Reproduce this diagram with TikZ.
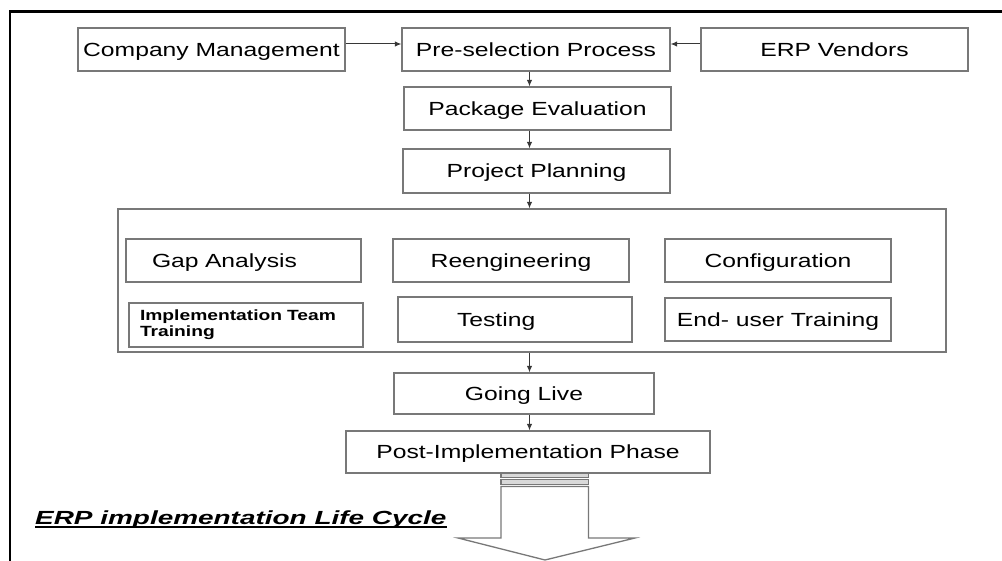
\documentclass[tikz,border=0pt]{standalone}
\usepackage{fontspec}
\setmainfont{Liberation Sans}[FakeStretch=1.3]
\newfontfamily\titlefont{Liberation Sans}[FakeStretch=1.47]
\usetikzlibrary{arrows.meta}

\definecolor{boxgray}{RGB}{120,120,120}
\definecolor{linegray}{RGB}{55,55,55}

\tikzset{
	box/.style={draw=boxgray, line width=1.3pt, inner sep=0pt, minimum height=43pt,
		text height=13.6pt, text depth=0pt, font=\fontsize{19}{22}\selectfont},
	flow/.style={draw=linegray, line width=1pt, -{Latex[length=6.5pt,width=5.5pt]}},
}

\begin{document}
\begin{tikzpicture}[x=1pt, y=-1pt]
	\useasboundingbox (0,0) rectangle (1002,561);

	% frame
	\draw[line width=2.6pt] (1002,11.3) -- (10,11.3) -- (10,561);

	% selection
	\node[box, minimum width=267pt] (mgmt) at (211.5,49.5) {Company Management};
	\node[box, minimum width=268pt] (presel) at (536,49.5) {Pre-selection Process};
	\node[box, minimum width=267pt] (vendors) at (834.5,49.5) {ERP Vendors};
	\node[box, minimum width=267pt] (pkgeval) at (537.5,108.5) {Package Evaluation};
	\node[box, minimum width=267pt, minimum height=44pt] (planning) at (536.5,171) {Project Planning};

	% implementation phases
	\node[draw=boxgray, line width=1.3pt, minimum width=828pt, minimum height=143pt] (phases) at (532,280.5) {};
	\node[box, minimum width=235pt, text width=183pt, inner xsep=26pt, align=left] (gap) at (243.5,260.5) {Gap Analysis};
	\node[box, minimum width=236pt] (reeng) at (511,260.5) {Reengineering};
	\node[box, minimum width=226pt] (config) at (778,260.5) {Configuration};
	\node[draw=boxgray, line width=1.3pt, minimum width=234pt, minimum height=44pt, inner xsep=11pt,
		text width=212pt, align=left, font=\fontsize{14.8}{16.4}\selectfont\bfseries] (teamtrain) at (246,325)
		{Implementation Team\\Training};
	\node[box, minimum width=234pt, minimum height=45pt, text width=116pt, inner xsep=59pt, align=left] (testing) at (515,319.5) {Testing};
	\node[box, minimum width=226pt] (usertrain) at (778,319.5) {End- user Training};

	% go live
	\node[box, minimum width=260pt, minimum height=41pt] (golive) at (524,393.5) {Going Live};
	\node[box, minimum width=364pt, minimum height=42pt] (postimpl) at (528,452) {Post-Implementation Phase};

	% arrows
	\coordinate (spine) at (529.5,0);
	\draw[flow] ([yshift=5.5pt]mgmt.east) -- ([yshift=5.5pt]presel.west);
	\draw[flow] ([yshift=5.5pt]vendors.west) -- ([yshift=5.5pt]presel.east);
	\draw[flow] (presel.south -| spine) -- (pkgeval.north -| spine);
	\draw[flow] (pkgeval.south -| spine) -- (planning.north -| spine);
	\draw[flow] (planning.south -| spine) -- (phases.north -| spine);
	\draw[flow] (phases.south -| spine) -- (golive.north -| spine);
	\draw[flow] (golive.south -| spine) -- (postimpl.north -| spine);

	% striped block arrow
	\foreach \top/\bot in {473.3/477.6, 479.3/484.3}
		\draw[boxgray, fill=gray!30, line width=1.2pt] (501,\top) rectangle (588.5,\bot);
	\draw[boxgray, fill=white, line width=1.3pt, line join=miter]
		(501,486.5) -- (501,538) -- (458,538) -- (545,560) -- (635,538) -- (588.5,538) -- (588.5,486.5) -- cycle;

	% caption
	\node[anchor=base west, inner sep=0pt, font=\titlefont\bfseries\itshape\fontsize{19}{22}\selectfont] (caption) at (35,524)
		{ERP implementation Life Cycle};
	\draw[line width=1.6pt] ([yshift=-3pt]caption.base west) -- ([yshift=-3pt]caption.base east);
\end{tikzpicture}
\end{document}
